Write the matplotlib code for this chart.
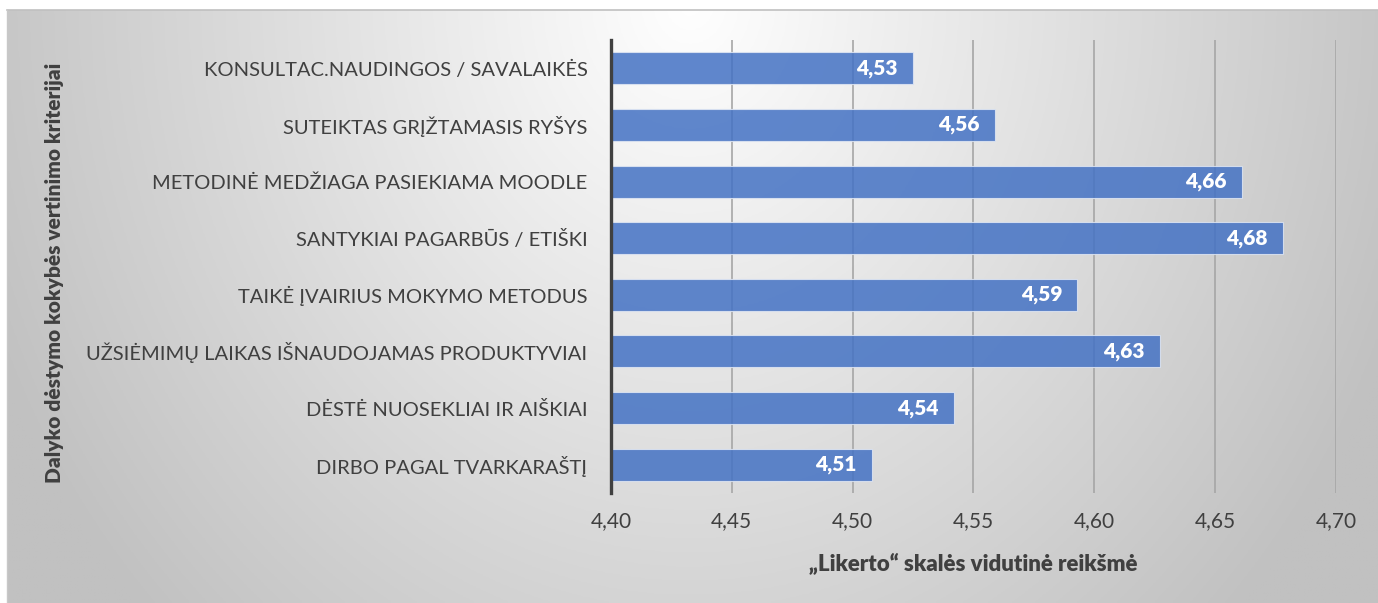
import numpy as np
import matplotlib.pyplot as plt
from matplotlib.ticker import FuncFormatter

plt.rcParams['font.family'] = ['Lato', 'DejaVu Sans']

# duomenys (iš apačios į viršų)
categories = [
    'DIRBO PAGAL TVARKARAŠTĮ',
    'DĖSTĖ NUOSEKLIAI IR AIŠKIAI',
    'UŽSIĖMIMŲ LAIKAS IŠNAUDOJAMAS PRODUKTYVIAI',
    'TAIKĖ ĮVAIRIUS MOKYMO METODUS',
    'SANTYKIAI PAGARBŪS / ETIŠKI',
    'METODINĖ MEDŽIAGA PASIEKIAMA MOODLE',
    'SUTEIKTAS GRĮŽTAMASIS RYŠYS',
    'KONSULTAC.NAUDINGOS / SAVALAIKĖS',
]
values = [4.508, 4.542, 4.627, 4.593, 4.678, 4.661, 4.559, 4.525]
x_ticks = [4.40, 4.45, 4.50, 4.55, 4.60, 4.65, 4.70]

x_title = '„Likerto“ skalės vidutinė reikšmė'
y_title = 'Dalyko dėstymo kokybės vertinimo kriterijai'

W, H = 1378, 603
fig = plt.figure(figsize=(W / 100, H / 100), dpi=100)

# fonas su radialiniu gradientu
bg = fig.add_axes([7 / W, 0, 1 - 7 / W, 1 - 10 / H])
xx, yy = np.meshgrid(np.linspace(7, W, 400), np.linspace(10, H, 200))
d = np.sqrt(((xx - 690) / 760) ** 2 + (yy / 880) ** 2)
shade = 255 - 62 * np.clip(d, 0, 1)
img = np.dstack([shade, shade, shade]) / 255
bg.imshow(img, aspect='auto', extent=[0, 1, 0, 1], origin='upper')
bg.set_xlim(0, 1)
bg.set_ylim(0, 1)
bg.axis('off')
fig.add_artist(plt.Line2D([7 / W, 1], [1 - 10 / H, 1 - 10 / H], color='#c0c0c0', lw=1.2,
                          transform=fig.transFigure))
fig.add_artist(plt.Line2D([7 / W, 7 / W], [0, 1 - 10 / H], color='#c8c8c8', lw=1.0,
                          transform=fig.transFigure))

ax = fig.add_axes([611 / W, 1 - 493 / H, (1336 - 611) / W, (493 - 40) / H])
ax.patch.set_alpha(0)

y = np.arange(len(categories))
ax.barh(y, [v - x_ticks[0] for v in values], left=x_ticks[0], height=0.565,
        color='#4472c4', alpha=0.85, edgecolor='#dfe6f3', linewidth=0.8, zorder=3)

for yi, v in zip(y, values):
    ax.annotate(f'{v:.2f}'.replace('.', ','), xy=(v, yi), xytext=(-11, 0),
                textcoords='offset points', ha='right', va='center',
                color='white', fontsize=15, fontweight='heavy', zorder=4)

ax.set_xlim(x_ticks[0], x_ticks[-1])
ax.set_ylim(-0.5, len(categories) - 0.5)
ax.set_xticks(x_ticks)
ax.xaxis.set_major_formatter(FuncFormatter(lambda v, p: f'{v:.2f}'.replace('.', ',')))
ax.set_yticks(y)
ax.set_yticklabels(categories)
ax.tick_params(axis='both', length=0, colors='#404040')
ax.tick_params(axis='y', pad=17, labelsize=14.5)
ax.tick_params(axis='x', pad=13, labelsize=15)

ax.grid(axis='x', color='#a6a6a6', linewidth=1.2, zorder=0)
for s in ['top', 'right', 'bottom']:
    ax.spines[s].set_visible(False)
ax.spines['left'].set_color('#404040')
ax.spines['left'].set_linewidth(2.4)
ax.spines['left'].set_zorder(5)

ax.set_xlabel(x_title, fontsize=16, fontweight='heavy', color='#404040', labelpad=15)
fig.text(55 / W, 1 - 273 / H, y_title, rotation=90, ha='center', va='center',
         fontsize=15, fontweight='heavy', color='#404040')

fig.savefig('out.png', dpi=100)
